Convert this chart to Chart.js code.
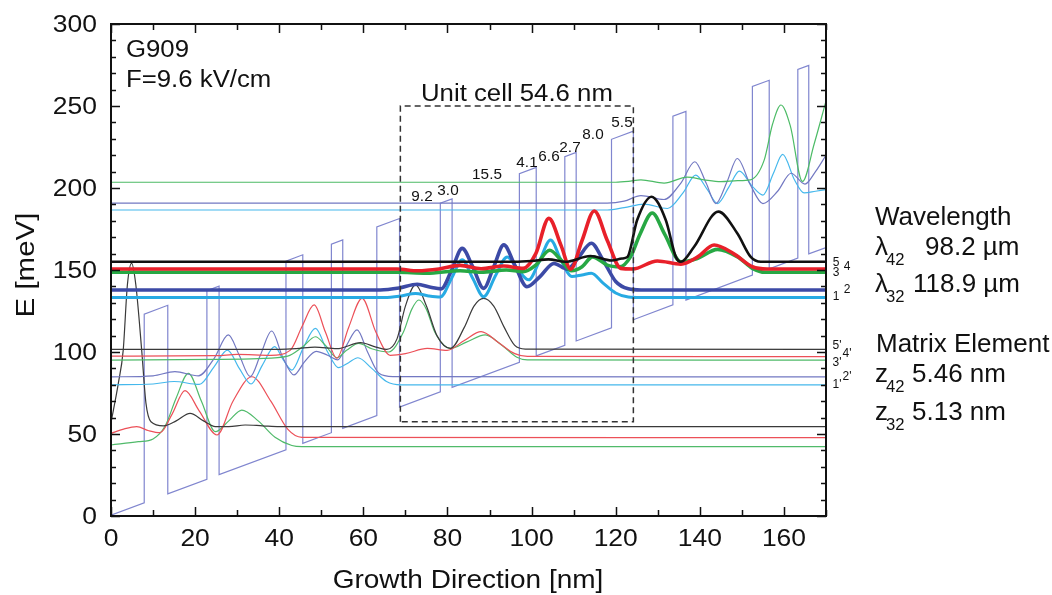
<!DOCTYPE html>
<html>
<head>
<meta charset="utf-8">
<script src="https://cdn.jsdelivr.net/npm/chart.js@4.4.1/dist/chart.umd.min.js"></script>
<style>
  html, body { margin: 0; padding: 0; background: #fff; }
  #wrap { width: 1052px; height: 595px; position: relative; }
</style>
</head>
<body>
<div id="wrap"><canvas id="bandChart"></canvas></div>
<script>
// Axis ticks
const xTicks = [0, 20, 40, 60, 80, 100, 120, 140, 160];
const yTicks = [0, 50, 100, 150, 200, 250, 300];

// Conduction band profile (growth direction nm, energy meV)
const bandX = [0, 7.9, 7.9, 13.5, 13.5, 22.8, 22.8, 25.7, 25.7, 41.6, 41.6, 45.6, 45.6, 52.4, 52.4, 55.1, 55.1,
  63.2, 63.2, 68.6, 68.6, 78.3, 78.3, 81.1, 81.1, 97.1, 97.1, 101.1, 101.1, 107.9, 107.9, 110.6, 110.6,
  119, 119, 124.2, 124.2, 133.6, 133.6, 136.7, 136.7, 152.5, 152.5, 156.5, 156.5, 163.3, 163.3, 165.9, 165.9, 170];
const bandE = [0.5, 8.1, 123.1, 128.5, 13.5, 22.4, 137.4, 140.2, 25.2, 40.4, 155.4, 159.3, 44.3, 50.8, 165.8, 168.4, 53.4,
  61.2, 176.2, 181.4, 66.4, 75.7, 190.7, 193.4, 78.4, 93.7, 208.7, 212.6, 97.6, 104.1, 219.1, 221.7, 106.7,
  114.7, 229.7, 234.7, 119.7, 128.8, 243.8, 246.7, 131.7, 146.9, 261.9, 265.7, 150.7, 157.3, 272.3, 274.8, 159.8, 163.7];

// Unit cell box
const boxX = [68.8, 68.8, 124.2, 124.2, 68.8];
const boxE = [57.5, 250, 250, 57.5, 57.5];

// Current period states (thick)
const st5X = [0, 96, 100, 104, 108, 114, 119, 121.5, 122.8, 125.1, 128.5, 131.9, 134.3, 135.5, 138.6, 144.4, 148.9, 152.1, 154.5, 170];
const st5E = [155, 155, 155.5, 156.5, 155, 158.5, 155.8, 157, 158, 180.5, 194.7, 180.5, 158, 155, 164, 185.6, 172.4, 158, 155, 155];
const st4X = [0, 68, 73, 78, 83, 88, 93.4, 98, 101, 104.1, 107, 109.3, 112, 114.9, 118, 121.2, 124, 129.9, 135.5, 139.5, 143.4, 148, 152.5, 156, 170];
const st4E = [150.6, 150.6, 149.5, 150.6, 152.8, 150.8, 152.4, 151, 160, 181.5, 165, 150.5, 168, 186, 168, 151, 150.6, 155.5, 153.6, 158, 165.2, 160, 152, 150.6, 150.6];
const st3X = [0, 68, 75, 83, 88, 94, 98, 101, 104.3, 107, 109.5, 112, 114.5, 118, 121, 123.5, 125.8, 128.7, 131.6, 135.5, 139.4, 144.2, 149, 152.5, 155.5, 170];
const st3E = [148.6, 148.6, 148, 149.5, 148.6, 150, 149, 153, 162, 156, 149.5, 152, 158, 153, 152, 158, 172, 184.8, 172, 155, 157, 162.6, 158, 151, 148.6, 148.6];
const st2X = [0, 64, 68.5, 72.8, 76, 78.5, 81, 83.5, 86, 88.6, 91, 93.4, 96, 98.9, 102, 105.3, 108.5, 111, 114.2, 117, 120, 123, 126, 170];
const st2E = [137.8, 137.8, 139, 141.3, 139.5, 138.5, 150, 163.2, 152, 138.8, 152, 165.3, 153, 139.8, 146, 154, 150.5, 157, 166.3, 156, 143, 138.5, 137.8, 137.8];
const st1X = [0, 65, 69, 72.4, 75.5, 78.3, 81, 83.5, 86, 88.6, 91.5, 94.2, 96.8, 99.3, 101.8, 104.5, 107, 109.6, 112, 114.2, 117, 120, 123, 126, 170];
const st1E = [133.2, 133.2, 134.2, 135.7, 134.2, 133.5, 145, 156.3, 145, 133.7, 147, 158, 150, 144, 155, 168.3, 156, 146, 147, 148, 142, 136, 133.5, 133.2, 133.2];

// Previous period states (thin, primed)
const p5X = [0, 40, 44, 48.5, 53.7, 59.3, 63, 65.6, 68, 70, 72.4, 75, 77.5, 80.7, 84, 86.3, 88.6, 91, 93.5, 96, 98.5, 170];
const p5E = [101.6, 101.6, 102, 103, 102, 105.7, 103, 101.6, 108, 128, 140.9, 128, 110, 102.2, 115, 128, 132.7, 128, 115, 104, 101.8, 101.6];
const p4X = [0, 25, 30, 38, 42.6, 45.5, 48.3, 51, 53.7, 56.5, 59.7, 63, 66.4, 70, 75.2, 79.9, 84, 88, 92, 96, 99, 170];
const p4E = [97.5, 97.8, 98.5, 98, 101, 116, 128.7, 112, 96.2, 115, 132.7, 112, 98, 99, 102.2, 101, 107, 112.4, 106, 99, 97.3, 97.2];
const p3X = [0, 25, 35, 42, 45.5, 48.6, 51, 53.7, 56, 58.9, 62, 66, 69.5, 71.5, 73.2, 75, 77, 80.7, 84.5, 89, 93, 96.5, 99, 170];
const p3E = [95.1, 95.5, 96, 97.5, 103, 109.3, 104, 96.5, 101, 105.3, 102, 100, 112, 126, 131.7, 126, 112, 102.2, 106, 110.4, 104, 96.8, 95.2, 95.1];
const p2X = [0, 10, 15.2, 20.8, 24.5, 27.9, 30.5, 33.1, 35.5, 38.2, 40.8, 43.5, 46, 48.8, 51.5, 53.9, 56, 58.5, 61, 63.7, 67, 170];
const p2E = [84.8, 85.5, 88, 85.5, 96, 110.4, 98, 85, 98, 112.8, 97, 86, 94, 100.4, 98, 95.2, 104, 113.5, 100, 87, 85, 84.8];
const p1X = [0, 10, 15, 21, 24.5, 27.7, 30.5, 33.3, 36, 38.9, 41, 43, 45.8, 48.6, 51.5, 54.1, 56.5, 58.7, 62, 65.5, 69, 170];
const p1E = [80, 80.5, 82, 80.2, 91, 101.2, 90, 80.5, 92, 103.3, 95, 89, 103, 114.4, 100, 90.5, 93.5, 96.5, 90, 82, 80, 79.9];

// Two periods back (thin)
const pp5X = [0, 1.75, 2.9, 3.9, 4.9, 5.9, 7.3, 8.3, 9.5, 12.5, 15.5, 18.8, 22, 24.8, 28, 31.9, 36, 40, 170];
const pp5E = [57, 81, 101, 141, 154, 141, 101, 69, 57.5, 55, 58, 62.6, 58, 54.5, 54.5, 55.5, 55, 54.5, 54.5];
const pp4X = [0, 3, 6.1, 9, 11.7, 14.5, 17.6, 21, 25.2, 29, 33.5, 38, 42, 45.4, 170];
const pp4E = [50.4, 53, 54.5, 52, 50.8, 62, 76.4, 64, 49.4, 70, 84.9, 70, 53, 48, 47.8];
const pp3X = [0, 6.5, 10, 12.9, 15.5, 18.4, 21.5, 24.8, 28, 31.1, 35, 39, 43, 45.4, 170];
const pp3E = [43.3, 45.3, 47, 55, 72, 87, 70, 51.4, 58, 64.6, 58, 48, 43, 42.3, 42.3];

// Next period states (thin)
const n3X = [0, 120, 123, 126, 131.5, 137, 141, 145, 149, 152, 155.3, 157.3, 159.3, 161.5, 164.4, 167.2, 170];
const n3E = [203.5, 203.5, 204, 205, 203, 206.6, 205, 203.9, 204.5, 205, 217, 239, 250.6, 238, 204, 227, 253];
const n2X = [0, 118, 122, 126, 131.5, 135.5, 138.8, 141.5, 143.8, 146.5, 148.9, 152, 155, 158.5, 161.7, 165, 167.5, 170];
const n2E = [190.8, 190.8, 192, 195.3, 193, 203, 216, 203, 190.5, 204, 218, 202, 190.5, 198, 209, 202.4, 210, 220];
const n1X = [0, 118, 122, 126.7, 132.3, 136, 139, 141.8, 144.2, 147, 149.4, 152.5, 155, 157.5, 159.7, 162.5, 164.8, 167.5, 170];
const n1E = [186.6, 186.6, 188, 190.2, 187.5, 197, 207.9, 199, 190.5, 201, 210.3, 201, 195.7, 209, 220.5, 205, 197, 198, 199];

const RED = "#e8202a";
const GREEN = "#27a844";
const DARKBLUE = "#3c4aa6";
const LIGHTBLUE = "#27aae3";
const BAND = "#8086cf";

function toPoints(xs, es) {
  return xs.map((x, i) => ({ x: x, y: es[i] }));
}

function curve(xs, es, color, width, order) {
  return {
    data: toPoints(xs, es),
    borderColor: color,
    borderWidth: width,
    showLine: true,
    pointRadius: 0,
    cubicInterpolationMode: "monotone",
    fill: false,
    order: order,
  };
}

function stretchText(ctx, str, x, y, size, align, sx) {
  ctx.save();
  ctx.font = size + 'px "Liberation Sans", Arial, sans-serif';
  ctx.translate(x, y);
  ctx.scale(sx, 1);
  ctx.textAlign = align;
  ctx.textBaseline = "alphabetic";
  ctx.fillText(str, 0, 0);
  ctx.restore();
}

// Frame, ticks and all text
const frameAndText = {
  id: "frameAndText",
  afterDatasetsDraw(chart) {
    const ctx = chart.ctx;
    const xs = chart.scales.x;
    const ys = chart.scales.y;
    const a = chart.chartArea;
    ctx.save();
    ctx.fillStyle = "#111";
    ctx.strokeStyle = "#111";

    // tick marks, inward on all four sides
    ctx.lineWidth = 1.5;
    ctx.beginPath();
    for (let v = 0; v <= 300; v += 10) {
      const y = Math.round(ys.getPixelForValue(v)) + 0.5;
      const len = v % 50 === 0 ? 9 : 5;
      ctx.moveTo(a.left, y); ctx.lineTo(a.left + len, y);
      ctx.moveTo(a.right, y); ctx.lineTo(a.right - len, y);
    }
    for (let v = 0; v <= 170; v += 10) {
      const x = Math.round(xs.getPixelForValue(v)) + 0.5;
      const len = v % 20 === 0 ? 9 : 6;
      ctx.moveTo(x, a.bottom); ctx.lineTo(x, a.bottom - len);
      ctx.moveTo(x, a.top); ctx.lineTo(x, a.top + len);
    }
    ctx.stroke();

    ctx.lineWidth = 2;
    ctx.strokeRect(a.left, a.top, a.right - a.left, a.bottom - a.top);

    // tick labels
    yTicks.forEach((v) => {
      stretchText(ctx, String(v), a.left - 14, ys.getPixelForValue(v) + 8, 23, "right", 1.15);
    });
    xTicks.forEach((v) => {
      stretchText(ctx, String(v), xs.getPixelForValue(v), 546, 23, "center", 1.15);
    });

    // axis titles
    stretchText(ctx, "Growth Direction [nm]", 468, 588, 25, "center", 1.12);
    ctx.save();
    ctx.translate(34, 265);
    ctx.rotate(-Math.PI / 2);
    stretchText(ctx, "E [meV]", 0, 0, 25, "center", 1.18);
    ctx.restore();

    // sample info
    stretchText(ctx, "G909", 126, 57, 23, "left", 1.12);
    stretchText(ctx, "F=9.6 kV/cm", 126, 87, 23, "left", 1.12);
    stretchText(ctx, "Unit cell 54.6 nm", 421, 101, 23, "left", 1.12);

    // layer thicknesses
    const layers = [["9.2", 422, 201], ["3.0", 448, 195], ["15.5", 487, 179], ["4.1", 527, 167],
      ["6.6", 549, 161], ["2.7", 570, 152], ["8.0", 593, 139], ["5.5", 622, 127]];
    layers.forEach((l) => stretchText(ctx, l[0], l[1], l[2], 15, "center", 1.02));

    // level numbers right of the frame
    const levels = [["5", 836, 262], ["4", 847, 266], ["3", 836, 272], ["1", 836, 296], ["2", 847, 289],
      ["5'", 837, 345], ["4'", 847, 353], ["3'", 837, 362], ["1'", 837, 384], ["2'", 847, 376]];
    levels.forEach((l) => stretchText(ctx, l[0], l[1], l[2] + 4, 12, "center", 1.0));

    // wavelength and matrix element
    stretchText(ctx, "Wavelength", 875, 225, 25, "left", 1.04);
    stretchText(ctx, "\u03bb", 875, 255, 25, "left", 1.04);
    stretchText(ctx, "42", 886, 265, 16, "left", 1.04);
    stretchText(ctx, "98.2 \u00b5m", 925, 255, 25, "left", 1.04);
    stretchText(ctx, "\u03bb", 875, 292, 25, "left", 1.04);
    stretchText(ctx, "32", 886, 302, 16, "left", 1.04);
    stretchText(ctx, "118.9 \u00b5m", 913, 292, 25, "left", 1.04);
    stretchText(ctx, "Matrix Element", 876, 352, 25, "left", 1.04);
    stretchText(ctx, "z", 875, 382, 25, "left", 1.04);
    stretchText(ctx, "42", 886, 392, 16, "left", 1.04);
    stretchText(ctx, "5.46 nm", 912, 382, 25, "left", 1.04);
    stretchText(ctx, "z", 875, 420, 25, "left", 1.04);
    stretchText(ctx, "32", 886, 430, 16, "left", 1.04);
    stretchText(ctx, "5.13 nm", 912, 420, 25, "left", 1.04);

    ctx.restore();
  },
};

const datasets = [
  // thick: current period
  curve(st5X, st5E, "#111111", 2.6, 1),
  curve(st4X, st4E, RED, 3.6, 2),
  curve(st3X, st3E, GREEN, 3.6, 3),
  curve(st2X, st2E, DARKBLUE, 3.6, 4),
  curve(st1X, st1E, LIGHTBLUE, 3.0, 5),
  // thin: next period
  curve(n3X, n3E, "#4cbb66", 1.2, 10),
  curve(n2X, n2E, "#7278c2", 1.2, 10),
  curve(n1X, n1E, "#45b8ec", 1.2, 10),
  // thin: previous period
  curve(p5X, p5E, "#3a3a3a", 1.2, 10),
  curve(p4X, p4E, "#ec5058", 1.2, 10),
  curve(p3X, p3E, "#50ba6a", 1.2, 10),
  curve(p2X, p2E, "#7278c2", 1.2, 10),
  curve(p1X, p1E, "#45b8ec", 1.2, 10),
  // thin: two periods back
  curve(pp5X, pp5E, "#3a3a3a", 1.2, 10),
  curve(pp4X, pp4E, "#ec5058", 1.2, 10),
  curve(pp3X, pp3E, "#50ba6a", 1.2, 10),
  // band profile
  {
    data: toPoints(bandX, bandE),
    borderColor: BAND,
    borderWidth: 1.2,
    showLine: true,
    pointRadius: 0,
    tension: 0,
    order: 20,
  },
  // unit cell box
  {
    data: toPoints(boxX, boxE),
    borderColor: "#333333",
    borderWidth: 1.5,
    borderDash: [6, 4],
    showLine: true,
    pointRadius: 0,
    tension: 0,
    order: 0,
  },
];

new Chart(document.getElementById("bandChart"), {
  type: "scatter",
  data: { datasets: datasets },
  options: {
    responsive: true,
    maintainAspectRatio: false,
    animation: false,
    layout: { padding: { left: 111, right: 226, top: 24, bottom: 79 } },
    plugins: { legend: { display: false }, tooltip: { enabled: false } },
    scales: {
      x: { type: "linear", min: 0, max: 170, display: false },
      y: { type: "linear", min: 0, max: 300, display: false },
    },
  },
  plugins: [frameAndText],
});
</script>
</body>
</html>
